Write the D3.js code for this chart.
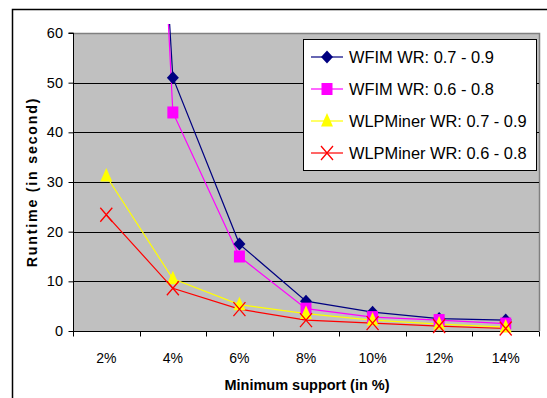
<!DOCTYPE html>
<html>
<head>
<meta charset="utf-8">
<script src="https://cdn.jsdelivr.net/npm/d3@7"></script>
<style>
  html, body { margin: 0; padding: 0; background: #fff; }
  svg { display: block; font-family: "Liberation Sans", Arial, sans-serif; }
</style>
</head>
<body>
<svg id="chart" width="547" height="398"></svg>
<script>
const categories = ["2%", "4%", "6%", "8%", "10%", "12%", "14%"];
const yTicks = [0, 10, 20, 30, 40, 50, 60];
const seriesNames = ["WFIM WR: 0.7 - 0.9", "WFIM WR: 0.6 - 0.8", "WLPMiner WR: 0.7 - 0.9", "WLPMiner WR: 0.6 - 0.8"];
const wfim79 = [275, 51, 17.5, 6, 3.8, 2.5, 2.2];
const wfim68 = [310, 44, 15, 4.5, 2.8, 2.2, 1.5];
const wlp79 = [31.2, 10.5, 5.3, 3.5, 2.2, 1.4, 0.8];
const wlp68 = [23.4, 8.6, 4.4, 2.2, 1.6, 1.0, 0.5];
const colors = ["#000080", "#FF00FF", "#FFFF00", "#FF0000"];
const markers = ["diamond", "square", "triangle", "x"];

const series = [wfim79, wfim68, wlp79, wlp68].map((v, i) => ({
  name: seriesNames[i], values: v, color: colors[i], marker: markers[i]
}));

const svg = d3.select("#chart");
const L = 73, R = 539, T = 33, B = 331;

// outer frame (extends past the image)
svg.append("rect").attr("x", 12.5).attr("y", 9.5).attr("width", 600).attr("height", 500)
  .attr("fill", "#fff").attr("stroke", "#000").attr("stroke-width", 1.5);

const x = d3.scaleBand().domain(categories).range([L, R]).paddingInner(0).paddingOuter(0);
const y = d3.scaleLinear().domain([0, 60]).range([B, T]);

// plot area
svg.append("rect").attr("x", L).attr("y", T).attr("width", R - L).attr("height", B - T)
  .attr("fill", "#C0C0C0");
svg.append("path").attr("d", `M${L},${T + 0.5}H${R + 0.5}V${B}`)
  .attr("fill", "none").attr("stroke", "#808080").attr("stroke-width", 1.5);

// gridlines
svg.append("g").selectAll("line").data(yTicks.filter(d => d > 0 && d < 60)).join("line")
  .attr("x1", L).attr("x2", R).attr("y1", d => Math.round(y(d)) + 0.5).attr("y2", d => Math.round(y(d)) + 0.5)
  .attr("stroke", "#000").attr("stroke-width", 1);

// y axis
const yAxis = d3.axisLeft(y).tickValues(yTicks).tickSize(5).tickPadding(5.5);
const gy = svg.append("g").attr("transform", `translate(${L + 0.5},0)`).call(yAxis);
gy.select(".domain").attr("stroke", "#000").attr("d", `M-5,${T}H0V${B}`);
gy.selectAll("text").attr("font-size", 14.5).attr("fill", "#000").attr("font-family", "Liberation Sans, Arial, sans-serif");

// x axis
const xAxis = d3.axisBottom(x).tickSize(0).tickPadding(21.5);
const gx = svg.append("g").attr("transform", `translate(0,${B + 0.5})`).call(xAxis);
gx.select(".domain").attr("stroke", "#000").attr("d", `M${L},0H${R}`);
gx.selectAll("text").attr("font-size", 14).attr("fill", "#000").attr("font-family", "Liberation Sans, Arial, sans-serif");
const tickXs = categories.map(c => x(c)).concat([R]);
gx.append("g").selectAll("line").data(tickXs).join("line")
  .attr("x1", d => Math.round(d) + 0.5).attr("x2", d => Math.round(d) + 0.5)
  .attr("y1", 0).attr("y2", 5).attr("stroke", "#000");

// axis titles
svg.append("text").attr("x", 307).attr("y", 390).attr("text-anchor", "middle")
  .attr("font-size", 14.5).attr("font-weight", "bold").text("Minimum support (in %)");
svg.append("text").attr("transform", `translate(37,${(T + B) / 2}) rotate(-90)`)
  .attr("text-anchor", "middle").attr("font-size", 14.2).attr("font-weight", "bold")
  .attr("letter-spacing", 1.8).text("Runtime (in second)");

// clip for lines
svg.append("clipPath").attr("id", "clip").append("rect")
  .attr("x", L).attr("y", 24).attr("width", R - L).attr("height", B - 24 + 12);

const cx = c => x(c) + x.bandwidth() / 2;
const line = d3.line().x((d, i) => cx(categories[i])).y(d => y(d));

function drawMarker(g, type, color, px, py) {
  if (type === "diamond") {
    g.append("path").attr("d", `M${px},${py - 6.5}L${px + 6},${py}L${px},${py + 6.5}L${px - 6},${py}Z`)
      .attr("fill", color);
  } else if (type === "square") {
    g.append("rect").attr("x", px - 5.5).attr("y", py - 6).attr("width", 11).attr("height", 12)
      .attr("fill", color);
  } else if (type === "triangle") {
    g.append("path").attr("d", `M${px},${py - 8}L${px + 6},${py + 5.5}L${px - 6},${py + 5.5}Z`)
      .attr("fill", color);
  } else {
    g.append("path").attr("d", `M${px - 6},${py - 7}L${px + 6},${py + 7}M${px + 6},${py - 7}L${px - 6},${py + 7}`)
      .attr("stroke", color).attr("stroke-width", 1.3).attr("fill", "none");
  }
}

const gl = svg.append("g").attr("clip-path", "url(#clip)");
series.forEach(s => {
  gl.append("path").attr("d", line(s.values)).attr("fill", "none")
    .attr("stroke", s.color).attr("stroke-width", 1.2);
});
series.forEach(s => {
  const gm = svg.append("g").attr("clip-path", "url(#clip)");
  s.values.forEach((v, i) => {
    if (v <= 60) drawMarker(gm, s.marker, s.color, cx(categories[i]), y(v));
  });
});

// legend
const lg = svg.append("g");
lg.append("rect").attr("x", 303.5).attr("y", 39.5).attr("width", 233).attr("height", 131)
  .attr("fill", "#fff").attr("stroke", "#000");
series.forEach((s, i) => {
  const ly = 57 + i * 32;
  lg.append("line").attr("x1", 311).attr("x2", 343).attr("y1", ly).attr("y2", ly)
    .attr("stroke", s.color).attr("stroke-width", 1.2);
  drawMarker(lg, s.marker, s.color, 327, ly);
  lg.append("text").attr("x", 349).attr("y", ly).attr("dy", "0.36em")
    .attr("font-size", 16.4).attr("fill", "#000").text(s.name);
});
</script>
</body>
</html>
